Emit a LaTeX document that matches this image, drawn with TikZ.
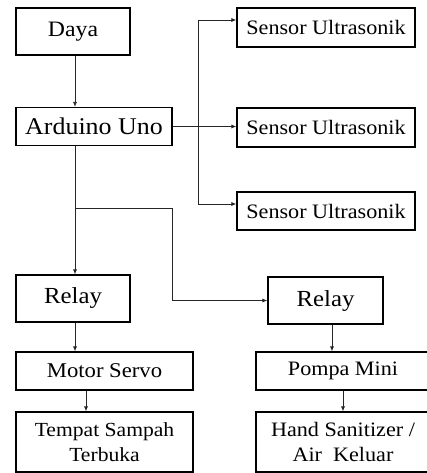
\documentclass[tikz,border=0pt]{standalone}
\usepackage{fontspec}
\setmainfont{Liberation Serif}[FakeStretch=1.08]
\usetikzlibrary{arrows.meta}
\begin{document}
\begin{tikzpicture}[x=1pt,y=-1pt,
  box/.style={draw=black,line width=1.1pt,inner sep=0pt,align=center,text=black},
  arr/.style={-{Latex[length=5pt,width=4pt]},line width=0.8pt,draw=black!85},
  ln/.style={line width=0.8pt,draw=black!85}]
\useasboundingbox (0,0) rectangle (427,473);
% boxes
\node[box,minimum width=114pt,minimum height=47pt,font=\fontsize{22}{25}\selectfont] (daya) at (73,31.5) {Daya};
\node[box,minimum width=156pt,minimum height=38pt,font=\fontsize{24}{27}\selectfont] (ard) at (94,126.5) {Arduino Uno};
\node[box,minimum width=178pt,minimum height=39pt,font=\fontsize{20.5}{24}\selectfont] (s1) at (326,27.5) {Sensor Ultrasonik};
\node[box,minimum width=178pt,minimum height=39pt,font=\fontsize{20.5}{24}\selectfont] (s2) at (326,127.5) {Sensor Ultrasonik};
\node[box,minimum width=178pt,minimum height=38pt,font=\fontsize{20.5}{24}\selectfont] (s3) at (326,211) {Sensor Ultrasonik};
\node[box,minimum width=114pt,minimum height=47pt,font=\fontsize{23}{26}\selectfont] (r1) at (73,298.5) {Relay};
\node[box,minimum width=115pt,minimum height=47pt,font=\fontsize{23}{26}\selectfont] (r2) at (325.5,300.5) {Relay};
\node[box,minimum width=177pt,minimum height=38pt,font=\fontsize{21}{24}\selectfont] (mot) at (104.5,371) {Motor Servo};
\node[box,minimum width=177pt,minimum height=60pt,font=\fontsize{20}{25}\selectfont] (tmp) at (104.5,442) {Tempat Sampah\\Terbuka};
\node[box,minimum width=190pt,minimum height=38pt] (pom) at (351,371) {};
\node[font=\fontsize{20.5}{24}\selectfont,text=black,inner sep=0pt] (pomt) at (343,371) {Pompa Mini};
\node[box,minimum width=190pt,minimum height=60pt] (hand) at (351,442) {};
\node[font=\fontsize{20.5}{25}\selectfont,text=black,inner sep=0pt,align=center] (handt) at (343,442) {Hand Sanitizer /\\Air~ Keluar};
% connector coordinates
\coordinate (cx) at (75,0);
\coordinate (b1) at (198,20);
\coordinate (b3) at (198,204);
\coordinate (br) at (75,208);
\coordinate (c1) at (172,208);
\coordinate (mx) at (86,0);
\coordinate (px) at (332,0);
\coordinate (hx) at (343,0);
% connectors
\draw[arr] (daya.south -| cx) -- (ard.north -| cx);
\draw[arr] (ard.east) -- (s2.west |- ard.east);
\draw[ln] (b1) -- (b3);
\draw[arr] (b1) -- (s1.west |- b1);
\draw[arr] (b3) -- (s3.west |- b3);
\draw[arr] (ard.south -| cx) -- (r1.north -| cx);
\draw[ln] (br) -- (c1);
\draw[arr] (c1) |- (r2.west);
\draw[arr] (r1.south -| cx) -- (mot.north -| cx);
\draw[arr] (mot.south -| mx) -- (tmp.north -| mx);
\draw[arr] (r2.south -| px) -- (pom.north -| px);
\draw[arr] (pom.south -| hx) -- (hand.north -| hx);
\end{tikzpicture}
\end{document}
